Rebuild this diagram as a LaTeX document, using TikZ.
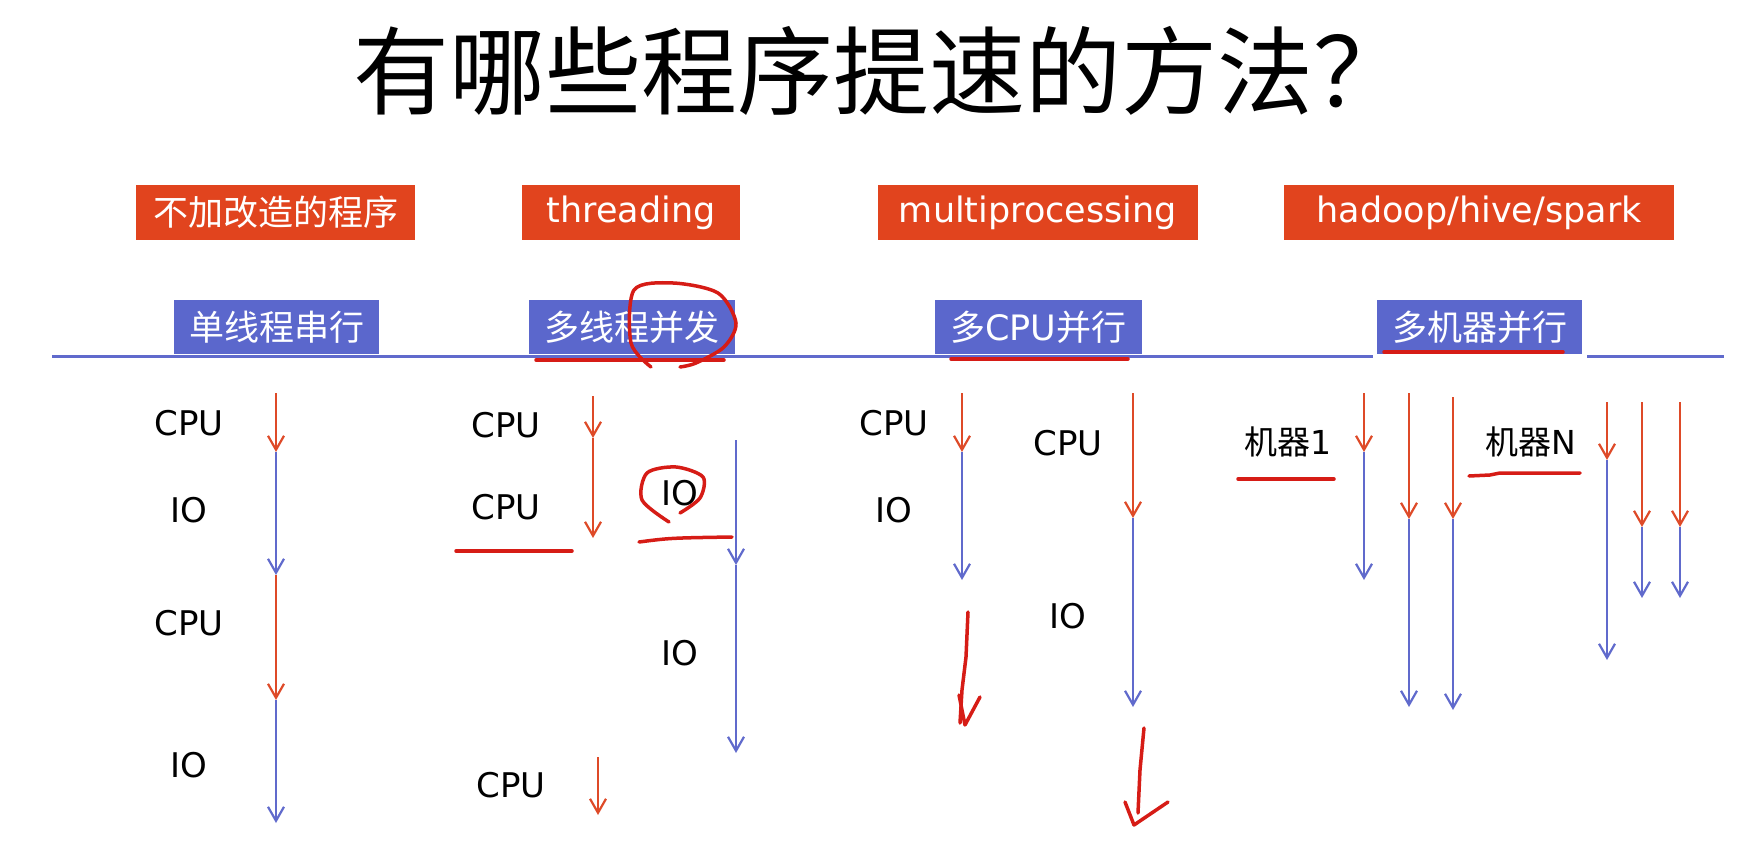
\documentclass[tikz,border=0pt]{standalone}
\usepackage{fontspec}
\setmainfont{DejaVu Sans}
\newfontfamily\cjk{Noto Sans CJK SC}
\usetikzlibrary{arrows.meta}
\definecolor{orangebox}{RGB}{225,68,30}
\definecolor{bluebox}{RGB}{91,103,204}
\definecolor{cpuline}{RGB}{222,74,40}
\definecolor{ioline}{RGB}{96,106,204}
\definecolor{pen}{RGB}{214,28,22}

\begin{document}
\begin{tikzpicture}[x=1pt, y=-1pt,
		obox/.style={fill=orangebox, text=white, inner sep=0pt, minimum height=55pt, font=\fontsize{35}{40}\selectfont},
		bbox/.style={fill=bluebox, text=white, inner sep=0pt, minimum height=54pt, font=\fontsize{35}{40}\selectfont},
		lbl/.style={font=\fontsize{34}{40}\selectfont},
		cpu/.style={line width=2.2pt, cpuline, arrows={-Straight Barb[length=14pt, width=16pt]}},
		io/.style={line width=2.2pt, ioline, arrows={-Straight Barb[length=14pt, width=16pt]}},
		ink/.style={line width=3.5pt, pen, line cap=round, line join=round}]
		\useasboundingbox (0,0) rectangle (1749,848);
		\node[font=\fontsize{96}{104}\selectfont, anchor=west, inner sep=0pt] (title) at (353,71) {\cjk 有哪些程序提速的方法？};

		% ways to speed up
		\node[obox, minimum width=279pt] (plain) at (275.5,212.5) {\cjk 不加改造的程序};
		\node[obox, minimum width=218pt] (thr) at (631,212.5) {threading};
		\node[obox, minimum width=320pt] (mp) at (1038,212.5) {multiprocessing};
		\node[obox, minimum width=390pt] (dist) at (1479,212.5) {hadoop/hive/spark};

		\draw[line width=3pt, ioline] (52,356) -- (1373,356);
		\draw[line width=3pt, ioline] (1587,356) -- (1724,356);
		\node[bbox, minimum width=205pt] (serial) at (276.5,327) {\cjk 单线程串行};
		\node[bbox, minimum width=206pt] (conc) at (632,327) {\cjk 多线程并发};
		\node[bbox, minimum width=207pt] (par) at (1038.5,327) {{\cjk 多}CPU{\cjk 并行}};
		\node[bbox, minimum width=205pt] (cluster) at (1479.5,327) {\cjk 多机器并行};

		% single thread
		\node[lbl] (cpuA) at (189,423) {CPU};
		\node[lbl] (ioA) at (189,510) {IO};
		\node[lbl] (cpuB) at (189,623) {CPU};
		\node[lbl] (ioB) at (189,765) {IO};
		\draw[cpu] (276,393) -- (276,452);
		\draw[io] (276,452) -- (276,575);
		\draw[cpu] (276,575) -- (276,700);
		\draw[io] (276,700) -- (276,823);

		% threads
		\node[lbl] (cpuC) at (506,425) {CPU};
		\node[lbl] (cpuD) at (506,507) {CPU};
		\node[lbl] (ioC) at (680,493) {IO};
		\node[lbl] (ioD) at (680,653) {IO};
		\node[lbl] (cpuE) at (511,785) {CPU};
		\draw[cpu] (593,396) -- (593,438);
		\draw[cpu] (593,438) -- (593,538);
		\draw[io] (736,440) -- (736,565);
		\draw[io] (736,565) -- (736,753);
		\draw[cpu] (598,757) -- (598,815);

		% processes
		\node[lbl] (cpuF) at (894,423) {CPU};
		\node[lbl] (ioE) at (894,510) {IO};
		\node[lbl] (cpuG) at (1068,443) {CPU};
		\node[lbl] (ioF) at (1068,616) {IO};
		\draw[cpu] (962,393) -- (962,452);
		\draw[io] (962,452) -- (962,580);
		\draw[cpu] (1133,393) -- (1133,518);
		\draw[io] (1133,518) -- (1133,707);

		% machines
		\node[lbl, font=\fontsize{33}{40}\selectfont] (m1) at (1288,442) {{\cjk 机器}1};
		\node[lbl, font=\fontsize{33}{40}\selectfont] (mN) at (1531,442) {{\cjk 机器}N};
		\draw[cpu] (1364,393) -- (1364,452);
		\draw[io] (1364,452) -- (1364,580);
		\draw[cpu] (1409,393) -- (1409,519);
		\draw[io] (1409,519) -- (1409,707);
		\draw[cpu] (1453,397) -- (1453,519);
		\draw[io] (1453,519) -- (1453,710);
		\draw[cpu] (1607,402) -- (1607,460);
		\draw[io] (1607,460) -- (1607,660);
		\draw[cpu] (1642,402) -- (1642,527);
		\draw[io] (1642,527) -- (1642,598);
		\draw[cpu] (1680,402) -- (1680,527);
		\draw[io] (1680,527) -- (1680,598);

		% pen marks
		\draw[ink] plot[smooth] coordinates {(651,367) (631,343) (634,290) (673,283) (718,293) (736,323) (724,347) (696,363) (680,367)};
		\draw[ink] (536,360) -- (724,360);
		\draw[ink] (951,359) -- (1128,359);
		\draw[ink] (1384,352) -- (1563,352);
		\draw[ink] (456,551) -- (572,551);
		\draw[ink] plot[smooth] coordinates {(669,522) (642,500) (647,473) (676,467) (703,477) (700,498) (680,513)};
		\draw[ink] (639,542) .. controls (670,538) .. (732,537);
		\draw[ink] (968,612) -- (966,657) -- (962,690) -- (960,723);
		\draw[ink] (959,695) -- (965,725) -- (980,697);
		\draw[ink] (1144,728) -- (1140,770) -- (1138,813);
		\draw[ink] (1125,802) -- (1134,825) -- (1168,802);
		\draw[ink] (1238,479) -- (1334,479);
		\draw[ink] (1469,476) -- (1490,475) -- (1500,473) -- (1580,473);
	\end{tikzpicture}
\end{document}
